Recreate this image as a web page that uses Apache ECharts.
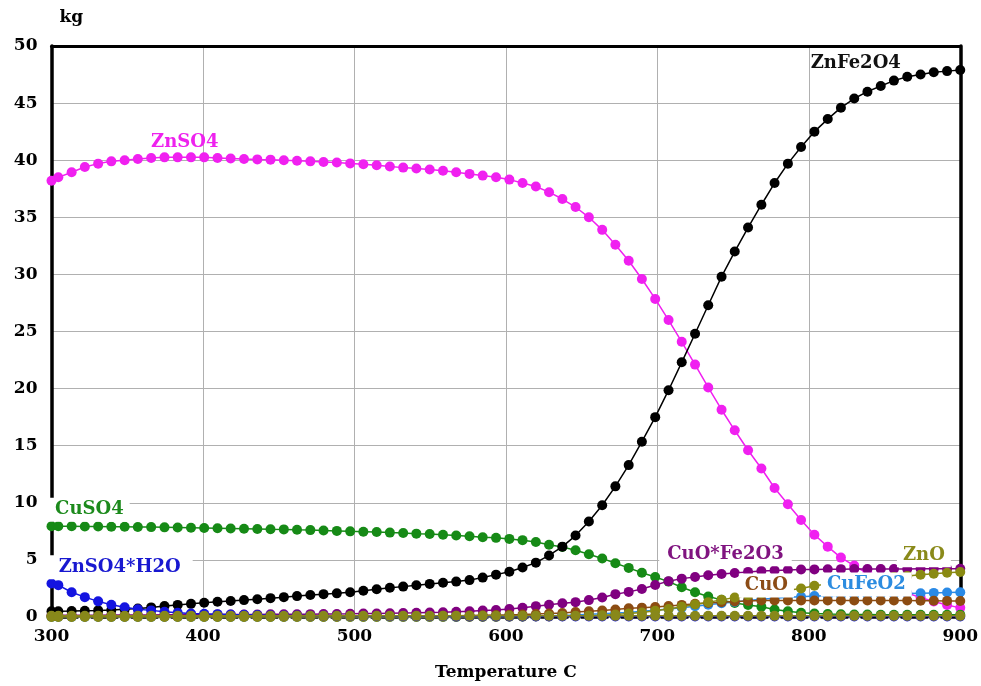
<!DOCTYPE html>
<html>
<head>
<meta charset="utf-8">
<script src="https://cdn.jsdelivr.net/npm/echarts@6/dist/echarts.min.js"></script>
<style>
  html, body { margin: 0; padding: 0; background: #fff; }
  #chart { width: 981px; height: 686px; }
</style>
</head>
<body>
<div id="chart"></div>
<script>
// Equilibrium amounts (kg) versus temperature (C)
const temps = [300, 304.5, 313.3, 322, 330.8, 339.5, 348.3, 357, 365.8, 374.6,
  383.3, 392.1, 400.8, 409.6, 418.3, 427.1, 435.9, 444.6, 453.4, 462.1,
  470.9, 479.6, 488.4, 497.2, 505.9, 514.7, 523.4, 532.2, 540.9, 549.7,
  558.5, 567.2, 576, 584.7, 593.5, 602.3, 611, 619.8, 628.5, 637.3,
  646, 654.8, 663.6, 672.3, 681.1, 689.8, 698.6, 707.4, 716.1, 724.9,
  733.6, 742.4, 751.1, 759.9, 768.7, 777.4, 786.2, 794.9, 803.7, 812.5,
  821.2, 830, 838.7, 847.5, 856.2, 865, 873.8, 882.5, 891.3, 900];

const znso4 = [38.2, 38.5, 38.95, 39.4, 39.7, 39.9, 40.0, 40.1, 40.2, 40.25,
  40.25, 40.25, 40.25, 40.2, 40.15, 40.1, 40.07, 40.05, 40.0, 39.95,
  39.9, 39.85, 39.8, 39.72, 39.65, 39.55, 39.45, 39.35, 39.27, 39.18,
  39.08, 38.95, 38.8, 38.65, 38.5, 38.3, 38.0, 37.7, 37.2, 36.6,
  35.9, 35.0, 33.9, 32.6, 31.2, 29.6, 27.85, 26.0, 24.1, 22.1,
  20.1, 18.15, 16.35, 14.6, 13.0, 11.3, 9.87, 8.5, 7.2, 6.16,
  5.2, 4.5, 3.8, 3.15, 2.6, 2.1, 1.7, 1.35, 1.05, 0.8];

const znfe2o4 = [0.5, 0.5, 0.52, 0.55, 0.58, 0.62, 0.68, 0.74, 0.84, 0.96,
  1.06, 1.15, 1.25, 1.33, 1.4, 1.48, 1.56, 1.65, 1.74, 1.83,
  1.92, 2.0, 2.07, 2.17, 2.3, 2.43, 2.56, 2.66, 2.78, 2.9,
  3.0, 3.1, 3.23, 3.45, 3.71, 3.96, 4.33, 4.76, 5.39, 6.16,
  7.13, 8.36, 9.79, 11.44, 13.3, 15.35, 17.5, 19.86, 22.3, 24.8,
  27.3, 29.8, 32.0, 34.1, 36.1, 38.0, 39.7, 41.15, 42.5, 43.6,
  44.6, 45.4, 46.0, 46.5, 46.97, 47.3, 47.5, 47.7, 47.8, 47.9];

const cuso4 = [7.95, 7.95, 7.95, 7.93, 7.92, 7.9, 7.9, 7.88, 7.87, 7.85,
  7.83, 7.81, 7.79, 7.77, 7.75, 7.73, 7.71, 7.69, 7.67, 7.64,
  7.61, 7.58, 7.54, 7.5, 7.47, 7.44, 7.39, 7.36, 7.3, 7.27,
  7.2, 7.13, 7.07, 6.99, 6.93, 6.84, 6.73, 6.56, 6.33, 6.13,
  5.85, 5.5, 5.13, 4.7, 4.3, 3.88, 3.5, 3.1, 2.6, 2.17,
  1.8, 1.5, 1.22, 1.05, 0.9, 0.65, 0.5, 0.37, 0.3, 0.26,
  0.24, 0.22, 0.21, 0.2, 0.2, 0.2, 0.2, 0.2, 0.2, 0.2];

const znso4h2o = [2.94, 2.79, 2.17, 1.74, 1.37, 1.08, 0.85, 0.68, 0.58, 0.46,
  0.37, 0.31, 0.28, 0.25, 0.22, 0.2, 0.18, 0.16, 0.14, 0.13,
  0.12, 0.11, 0.1, 0.09, 0.08, 0.08, 0.07, 0.07, 0.06, 0.06,
  0.06, 0.05, 0.05, 0.05, 0.05, 0.05, 0.05, 0.05, 0.05, 0.05,
  0.05, 0.05, 0.05, 0.05, 0.05, 0.05, 0.05, 0.05, 0.05, 0.05,
  0.05, 0.05, 0.05, 0.05, 0.05, 0.05, 0.05, 0.05, 0.05, 0.05,
  0.05, 0.05, 0.05, 0.05, 0.05, 0.05, 0.05, 0.05, 0.05, 0.05];

const cuoFe2o3 = [0.15, 0.15, 0.15, 0.16, 0.16, 0.17, 0.17, 0.18, 0.18, 0.19,
  0.19, 0.2, 0.2, 0.21, 0.21, 0.22, 0.22, 0.23, 0.23, 0.24,
  0.25, 0.26, 0.27, 0.28, 0.3, 0.31, 0.33, 0.35, 0.37, 0.4,
  0.42, 0.46, 0.5, 0.56, 0.62, 0.7, 0.8, 0.95, 1.08, 1.2,
  1.3, 1.48, 1.7, 2.0, 2.2, 2.45, 2.8, 3.14, 3.36, 3.5,
  3.65, 3.77, 3.86, 3.95, 4.02, 4.08, 4.12, 4.16, 4.17, 4.18,
  4.19, 4.2, 4.2, 4.21, 4.21, 4.21, 4.22, 4.22, 4.22, 4.22];

const cufeo2 = [0, 0, 0, 0, 0, 0, 0, 0, 0, 0,
  0, 0, 0, 0, 0, 0, 0, 0, 0, 0,
  0, 0, 0, 0, 0, 0, 0, 0, 0, 0.01,
  0.01, 0.01, 0.02, 0.02, 0.03, 0.04, 0.05, 0.07, 0.1, 0.14,
  0.18, 0.23, 0.28, 0.34, 0.4, 0.5, 0.6, 0.7, 0.82, 0.95,
  1.08, 1.2, 1.32, 1.45, 1.55, 1.64, 1.72, 1.78, 1.83, 1.87,
  1.9, 1.93, 1.96, 1.99, 2.02, 2.05, 2.08, 2.11, 2.14, 2.17];

const cuo = [0.05, 0.05, 0.05, 0.05, 0.05, 0.05, 0.05, 0.05, 0.05, 0.05,
  0.05, 0.05, 0.05, 0.05, 0.05, 0.05, 0.05, 0.05, 0.05, 0.05,
  0.05, 0.05, 0.05, 0.06, 0.06, 0.06, 0.07, 0.07, 0.08, 0.09,
  0.1, 0.11, 0.13, 0.15, 0.17, 0.19, 0.22, 0.26, 0.31, 0.35,
  0.43, 0.5, 0.57, 0.66, 0.76, 0.82, 0.88, 0.97, 1.06, 1.15,
  1.22, 1.3, 1.36, 1.41, 1.44, 1.45, 1.45, 1.45, 1.45, 1.45,
  1.45, 1.45, 1.45, 1.45, 1.44, 1.44, 1.43, 1.42, 1.41, 1.4];

const zno = [0, 0, 0, 0, 0, 0, 0, 0, 0, 0,
  0, 0, 0, 0, 0, 0, 0, 0, 0, 0,
  0, 0, 0, 0, 0, 0, 0, 0, 0, 0,
  0, 0, 0, 0, 0.01, 0.02, 0.03, 0.04, 0.05, 0.07,
  0.09, 0.12, 0.16, 0.22, 0.3, 0.4, 0.55, 0.7, 0.9, 1.1,
  1.3, 1.5, 1.7, 1.9, 2.05, 2.2, 2.35, 2.5, 2.74, 2.9,
  3.05, 3.2, 3.3, 3.4, 3.5, 3.6, 3.7, 3.78, 3.87, 3.94];

const fe2o3 = [0.1, 0.1, 0.1, 0.1, 0.1, 0.1, 0.1, 0.1, 0.1, 0.1,
  0.1, 0.1, 0.1, 0.1, 0.1, 0.1, 0.1, 0.1, 0.1, 0.1,
  0.1, 0.1, 0.1, 0.1, 0.1, 0.1, 0.1, 0.1, 0.1, 0.1,
  0.1, 0.1, 0.1, 0.1, 0.1, 0.1, 0.1, 0.1, 0.1, 0.1,
  0.1, 0.1, 0.1, 0.1, 0.1, 0.1, 0.1, 0.1, 0.1, 0.1,
  0.1, 0.1, 0.1, 0.1, 0.1, 0.1, 0.1, 0.1, 0.1, 0.1,
  0.1, 0.1, 0.1, 0.1, 0.1, 0.1, 0.1, 0.1, 0.1, 0.1];

const xTicks = { min: 300, max: 900, step: 100 };
const yTicks = { min: 0, max: 50, step: 5 };

// Curve annotations: text, colour, anchor in data units, white backing box
const curveLabels = [
  { text: 'ZnSO4',      color: '#ee22ee', at: [388, 41.6], box: false },
  { text: 'ZnFe2O4',    color: '#111111', at: [831, 48.5], box: false },
  { text: 'CuSO4',      color: '#1c8a1c', at: [325, 9.4],  box: true, padX: 6 },
  { text: 'ZnSO4*H2O',  color: '#1818d0', at: [345, 4.35], box: true, padX: 12 },
  { text: 'CuO*Fe2O3',  color: '#801480', at: [745, 5.5],  box: true, padX: 8 },
  { text: 'ZnO',        color: '#8a8a1a', at: [876, 5.4],  box: true, padX: 6 },
  { text: 'CuO',        color: '#8c4c16', at: [772, 2.75], box: true, padX: 6 },
  { text: 'CuFeO2',     color: '#2c8ce0', at: [838, 2.85], box: true, padX: 6 }
];

const FONT = '"DejaVu Serif", "Liberation Serif", serif';

function pairs(ys) { return temps.map((t, i) => [t, ys[i]]); }

function lineSeries(name, ys, color, z) {
  return {
    name, type: 'line', data: pairs(ys), z: z || 2,
    symbol: 'circle', symbolSize: 10,
    lineStyle: { color, width: 1.5 },
    itemStyle: { color },
    emphasis: { disabled: true },
    animation: false
  };
}

const chart = echarts.init(document.getElementById('chart'), null, { renderer: 'canvas' });

const axisLabelStyle = { color: '#000', fontFamily: FONT, fontWeight: 'bold', fontSize: 17 };

chart.setOption({
  animation: false,
  backgroundColor: '#fff',
  grid: { left: 51.5, right: 19.3, top: 46, bottom: 56.7, containLabel: false },
  xAxis: [{
    type: 'value', min: xTicks.min, max: xTicks.max, interval: xTicks.step,
    name: 'Temperature C', nameLocation: 'middle', nameGap: 47,
    nameTextStyle: { color: '#000', fontFamily: FONT, fontWeight: 'bold', fontSize: 17 },
    axisLine: { show: true, onZero: false, lineStyle: { color: '#000', width: 2.5, type: [6, 4] } },
    axisTick: { show: false },
    axisLabel: Object.assign({ margin: 11 }, axisLabelStyle),
    splitLine: { show: true, lineStyle: { color: '#b0b0b0', width: 1 } }
  }, {
    type: 'value', position: 'top', min: xTicks.min, max: xTicks.max, interval: xTicks.step,
    axisLine: { show: true, onZero: false, lineStyle: { color: '#000', width: 3 } },
    axisTick: { show: false }, axisLabel: { show: false }, splitLine: { show: false }
  }],
  yAxis: [{
    type: 'value', min: yTicks.min, max: yTicks.max, interval: yTicks.step,
    axisLine: { show: true, onZero: false, lineStyle: { color: '#000', width: 3.5 } },
    axisTick: { show: false },
    axisLabel: Object.assign({ margin: 14 }, axisLabelStyle),
    splitLine: { show: true, lineStyle: { color: '#b0b0b0', width: 1 } }
  }, {
    type: 'value', position: 'right', min: yTicks.min, max: yTicks.max, interval: yTicks.step,
    axisLine: { show: true, onZero: false, lineStyle: { color: '#000', width: 3.5 } },
    axisTick: { show: false }, axisLabel: { show: false }, splitLine: { show: false }
  }],
  series: [
    lineSeries('ZnSO4', znso4, '#f020f0', 3),
    lineSeries('ZnFe2O4', znfe2o4, '#000000', 4),
    lineSeries('CuSO4', cuso4, '#168a16', 3),
    lineSeries('ZnSO4*H2O', znso4h2o, '#1414e0', 5),
    lineSeries('CuO*Fe2O3', cuoFe2o3, '#800080', 3),
    lineSeries('CuFeO2', cufeo2, '#2a8ae6', 3),
    lineSeries('CuO', cuo, '#8c4c12', 4),
    lineSeries('ZnO', zno, '#8a8a12', 4),
    lineSeries('Fe2O3', fe2o3, '#88881a', 6)
  ]
});

// Annotations placed from data coordinates after the axes exist
const origin = chart.convertToPixel({ gridIndex: 0 }, [300, 50]);
const graphics = [{
  type: 'text', z: 100, x: origin[0] + 8, y: origin[1] - 28,
  style: { text: 'kg', fill: '#000', font: 'bold 17px ' + FONT, align: 'left', verticalAlign: 'middle' }
}];
curveLabels.forEach(l => {
  const p = chart.convertToPixel({ gridIndex: 0 }, l.at);
  graphics.push({
    type: 'text', z: 100, x: p[0], y: p[1],
    style: Object.assign({
      text: l.text, fill: l.color, font: 'bold 18px ' + FONT,
      align: 'center', verticalAlign: 'middle'
    }, l.box ? { backgroundColor: '#fff', padding: [4, l.padX, 2, l.padX] } : {})
  });
});
chart.setOption({ graphic: graphics });
</script>
</body>
</html>
